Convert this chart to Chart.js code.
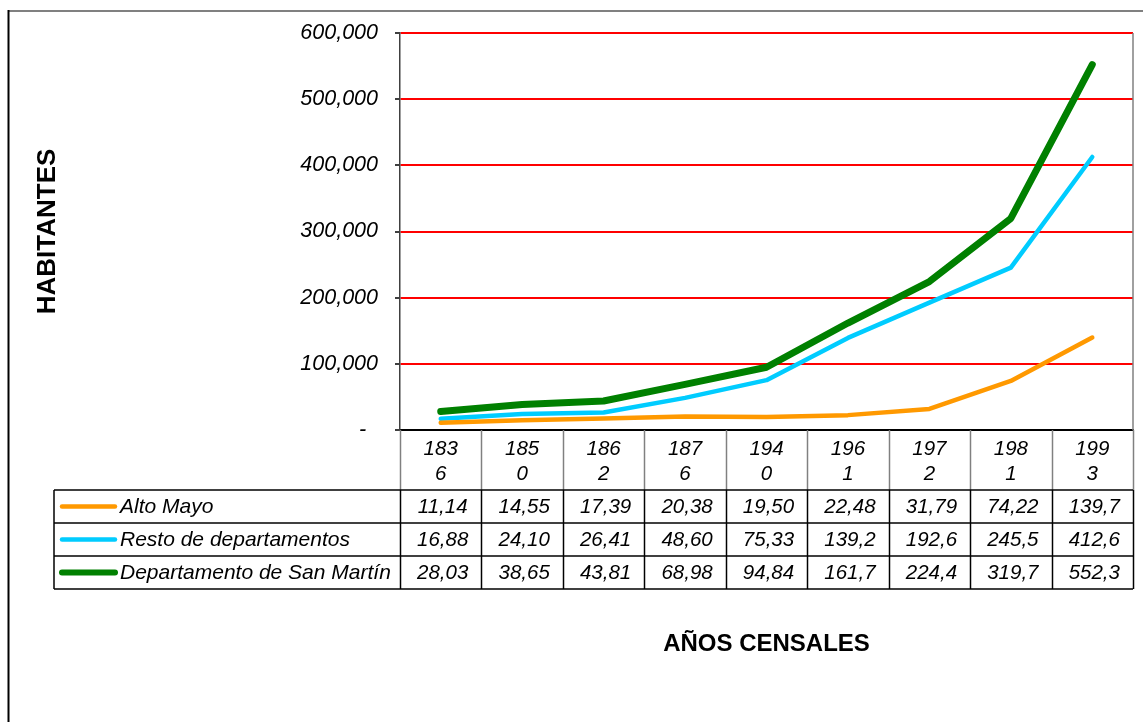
<!DOCTYPE html>
<html>
<head>
<meta charset="utf-8">
<script src="https://cdn.jsdelivr.net/npm/chart.js@4/dist/chart.umd.min.js"></script>
<style>
html,body{margin:0;padding:0;background:#fff;}
canvas{display:block;}
</style>
</head>
<body>
<canvas id="c" width="1143" height="722"></canvas>
<script>
const years = ['1836','1850','1862','1876','1940','1961','1972','1981','1993'];
const altoMayo = [11140, 14550, 17390, 20380, 19500, 22480, 31790, 74220, 139700];
const restoDep = [16880, 24100, 26410, 48600, 75330, 139200, 192600, 245500, 412600];
const sanMartin = [28030, 38650, 43810, 68980, 94840, 161700, 224400, 319700, 552300];
const seriesNames = ['Alto Mayo', 'Resto de departamentos', 'Departamento de San Martín'];
const yTicks = [0, 100000, 200000, 300000, 400000, 500000, 600000];

const FONT = '"Liberation Sans", Arial, sans-serif';

function cellText(v) {
  return v.toLocaleString('en-US').slice(0, 5);
}

const tablePlugin = {
  id: 'dataTable',
  afterDraw(chart) {
    const ctx = chart.ctx;
    const x = chart.scales.x;
    const area = chart.chartArea;
    const half = (x.getPixelForValue(1) - x.getPixelForValue(0)) / 2;
    const right = area.right, bottom = area.bottom;
    const headerBottom = bottom + 60;
    const rowH = 33;
    const legLeft = 54;
    ctx.save();
    // outer chart border
    ctx.strokeStyle = '#808080';
    ctx.lineWidth = 2;
    ctx.beginPath();
    ctx.moveTo(8, 11); ctx.lineTo(1143, 11);
    ctx.stroke();
    ctx.strokeStyle = '#000';
    ctx.beginPath();
    ctx.moveTo(8.5, 10); ctx.lineTo(8.5, 722);
    ctx.stroke();
    // plot area right border
    ctx.strokeStyle = '#808080';
    ctx.lineWidth = 1.5;
    ctx.beginPath();
    ctx.moveTo(right, area.top); ctx.lineTo(right, bottom);
    ctx.stroke();
    // header row vertical lines
    ctx.strokeStyle = '#808080';
    ctx.lineWidth = 1.5;
    for (let i = 0; i <= years.length; i++) {
      const px = i < years.length ? x.getPixelForValue(i) - half : x.getPixelForValue(years.length - 1) + half;
      ctx.beginPath();
      ctx.moveTo(Math.round(px) + 0.5, bottom); ctx.lineTo(Math.round(px) + 0.5, headerBottom);
      ctx.stroke();
    }
    // data rows grid
    ctx.strokeStyle = '#000';
    ctx.lineWidth = 1.5;
    for (let r = 0; r <= 3; r++) {
      const y = headerBottom + r * rowH;
      ctx.beginPath();
      ctx.moveTo(legLeft, y); ctx.lineTo(right, y);
      ctx.stroke();
    }
    const tableBottom = headerBottom + 3 * rowH;
    ctx.beginPath();
    ctx.moveTo(legLeft, headerBottom); ctx.lineTo(legLeft, tableBottom);
    ctx.stroke();
    for (let i = 0; i <= years.length; i++) {
      const px = i < years.length ? x.getPixelForValue(i) - half : x.getPixelForValue(years.length - 1) + half;
      ctx.beginPath();
      ctx.moveTo(Math.round(px) + 0.5, headerBottom); ctx.lineTo(Math.round(px) + 0.5, tableBottom);
      ctx.stroke();
    }
    // legend keys, names and values
    ctx.textBaseline = 'middle';
    chart.data.datasets.forEach((ds, r) => {
      const cy = headerBottom + r * rowH + rowH / 2 + 1;
      ctx.strokeStyle = ds.borderColor;
      ctx.lineWidth = r === 2 ? 6 : 4.5;
      ctx.lineCap = 'round';
      ctx.beginPath();
      ctx.moveTo(62, cy - 1); ctx.lineTo(115, cy - 1);
      ctx.stroke();
      ctx.fillStyle = '#000';
      ctx.textAlign = 'left';
      ctx.font = 'italic 21px ' + FONT;
      ctx.fillText(ds.label, 120, cy);
      ctx.textAlign = 'center';
      ctx.font = 'italic 20.5px ' + FONT;
      ds.data.forEach((v, i) => {
        ctx.fillText(cellText(v), x.getPixelForValue(i) + 2, cy);
      });
    });
    ctx.restore();
  }
};

const chart = new Chart(document.getElementById('c'), {
  type: 'line',
  data: {
    labels: years,
    datasets: [
      { label: seriesNames[0], data: altoMayo, borderColor: '#FF9900', borderWidth: 4.5 },
      { label: seriesNames[1], data: restoDep, borderColor: '#00CCFF', borderWidth: 4.5 },
      { label: seriesNames[2], data: sanMartin, borderColor: '#008000', borderWidth: 7 }
    ].map(d => Object.assign(d, { pointRadius: 0, tension: 0, fill: false, borderCapStyle: 'round', borderJoinStyle: 'round' }))
  },
  options: {
    responsive: false,
    animation: false,
    devicePixelRatio: 1,
    layout: { padding: { left: 8, top: 33, right: 10, bottom: 0 } },
    plugins: { legend: { display: false }, tooltip: { enabled: false } },
    scales: {
      x: {
        type: 'category',
        offset: true,
        grid: { display: false, drawTicks: false },
        border: { display: true, color: '#000', width: 2 },
        ticks: {
          maxRotation: 0, autoSkip: false, padding: 7, color: '#000',
          font: { family: FONT, size: 20.5, style: 'italic', lineHeight: 1.22 },
          callback: function (val, i) { const s = years[i]; return [s.slice(0, 3), s.slice(3)]; }
        },
        title: {
          display: true, text: 'AÑOS CENSALES', color: '#000',
          font: { family: FONT, size: 24, weight: 'bold' },
          padding: { top: 0, bottom: 63 }
        },
        afterFit(scale) { scale.height = 292; }
      },
      y: {
        min: 0, max: 600000,
        afterBuildTicks(scale) { scale.ticks = yTicks.map(v => ({ value: v })); },
        grid: {
          color: ctx => (ctx.tick && ctx.tick.value === 0) ? '#000' : '#FF0000',
          lineWidth: 2,
          drawTicks: true, tickLength: 5, tickColor: '#000', tickWidth: 1.5
        },
        border: { display: true, color: '#404040', width: 1.5 },
        ticks: {
          padding: 17, color: '#000',
          font: { family: FONT, size: 21.5, style: 'italic' },
          callback: v => v === 0 ? '-  ' : v.toLocaleString('en-US')
        },
        title: {
          display: true, text: 'HABITANTES', color: '#000',
          font: { family: FONT, size: 26, weight: 'bold' },
          padding: { top: 24, bottom: 0 }
        },
        afterFit(scale) { scale.width = 392; }
      }
    }
  },
  plugins: [tablePlugin]
});
</script>
</body>
</html>
